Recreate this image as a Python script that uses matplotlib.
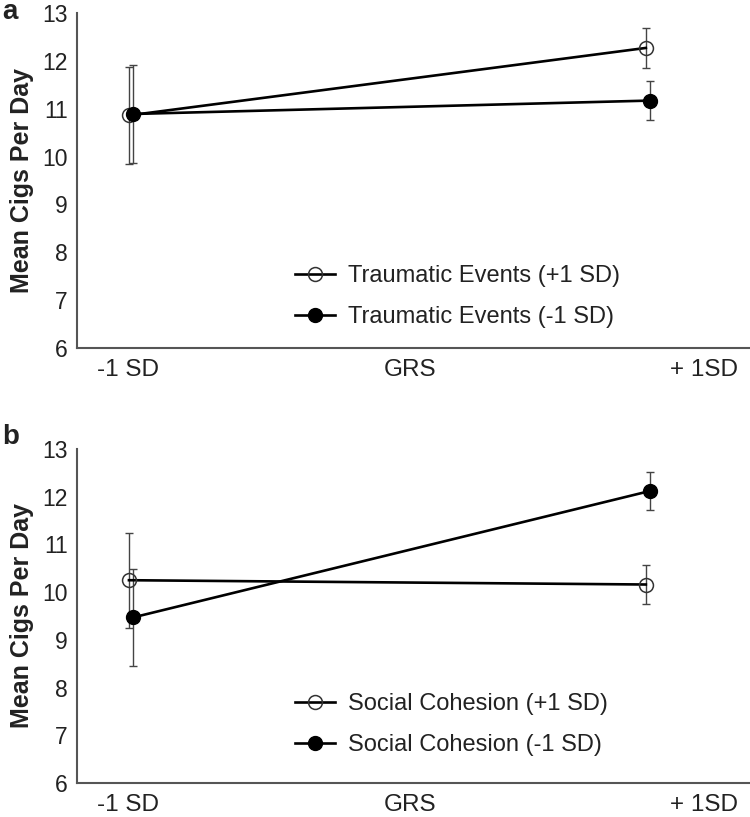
"""Mean cigarettes per day by GRS, split by traumatic events and social cohesion."""

import matplotlib
matplotlib.use("Agg")
import matplotlib.pyplot as plt

plt.rcParams["font.family"] = ["Liberation Sans", "DejaVu Sans"]

# GRS levels (-1 SD, +1 SD); open/filled series are dodged slightly.
grs = [-1.0, 1.0]
dodge = 0.008

# Panel a: traumatic events.
te_high = [10.86, 12.27]
te_high_err = [1.02, 0.41]
te_low = [10.89, 11.17]
te_low_err = [1.02, 0.40]

# Panel b: social cohesion.
sc_high = [10.25, 10.16]
sc_high_err = [1.00, 0.40]
sc_low = [9.47, 12.12]
sc_low_err = [1.02, 0.40]

x_tick_pos = [-1.01, 0.08, 1.217]
x_tick_labels = ["-1 SD", "GRS", "+ 1SD"]
y_ticks = [6, 7, 8, 9, 10, 11, 12, 13]

TEXT = "#222222"
SPINE = "#555555"
ERR = "#444444"

fig = plt.figure(figsize=(7.5, 8.17), dpi=100)
ax_a = fig.add_axes([77 / 750, 1 - 348 / 817, 673 / 750, 335 / 817])
ax_b = fig.add_axes([77 / 750, 1 - 783 / 817, 673 / 750, 334 / 817])

panels = [
    (ax_a, "a", 12, "Traumatic Events", 0.031,
     (te_high, te_high_err), (te_low, te_low_err)),
    (ax_b, "b", 437, "Social Cohesion", 0.052,
     (sc_high, sc_high_err), (sc_low, sc_low_err)),
]

for ax, letter, letter_y, name, leg_y, (hi, hi_err), (lo, lo_err) in panels:
    x_hi = [x - dodge for x in grs]
    x_lo = [x + dodge for x in grs]

    # Error bars first, then lines with markers on top.
    ax.errorbar(x_hi, hi, yerr=hi_err, fmt="none", ecolor=ERR,
                elinewidth=1.0, capsize=3.2, capthick=1.0, zorder=2)
    ax.errorbar(x_lo, lo, yerr=lo_err, fmt="none", ecolor=ERR,
                elinewidth=1.0, capsize=3.2, capthick=1.0, zorder=2)
    ax.plot(x_hi, hi, color="black", linewidth=1.9, marker="o",
            markersize=10, markerfacecolor="none", markeredgecolor="#333333",
            markeredgewidth=1.1, label=f"{name} (+1 SD)", zorder=3)
    ax.plot(x_lo, lo, color="black", linewidth=1.9, marker="o",
            markersize=10, markerfacecolor="black", markeredgecolor="black",
            label=f"{name} (-1 SD)", zorder=4)

    ax.set_xlim(-1.209, 1.395)
    ax.set_ylim(6, 13)
    ax.set_yticks(y_ticks)
    ax.set_xticks(x_tick_pos)
    ax.set_xticklabels(x_tick_labels)
    ax.tick_params(axis="y", length=0, pad=6.5, labelsize=16.5,
                   labelcolor=TEXT)
    ax.tick_params(axis="x", length=0, pad=8, labelsize=17.5,
                   labelcolor=TEXT)
    for side in ("top", "right"):
        ax.spines[side].set_visible(False)
    for side in ("left", "bottom"):
        ax.spines[side].set_color(SPINE)
        ax.spines[side].set_linewidth(1.5)
    ax.set_ylabel("Mean Cigs Per Day", fontsize=18, fontweight="bold",
                  color=TEXT, labelpad=6)

    leg = ax.legend(loc="lower left", bbox_to_anchor=(0.31, leg_y),
                    frameon=False, fontsize=17, handlelength=1.7,
                    handletextpad=0.55, labelspacing=0.82,
                    borderaxespad=0)
    for text in leg.get_texts():
        text.set_color(TEXT)

    fig.text(2 / 750, 1 - letter_y / 817, letter, fontsize=20,
             fontweight="bold", color=TEXT, ha="left", va="center")

fig.savefig("out.png", dpi=100)
